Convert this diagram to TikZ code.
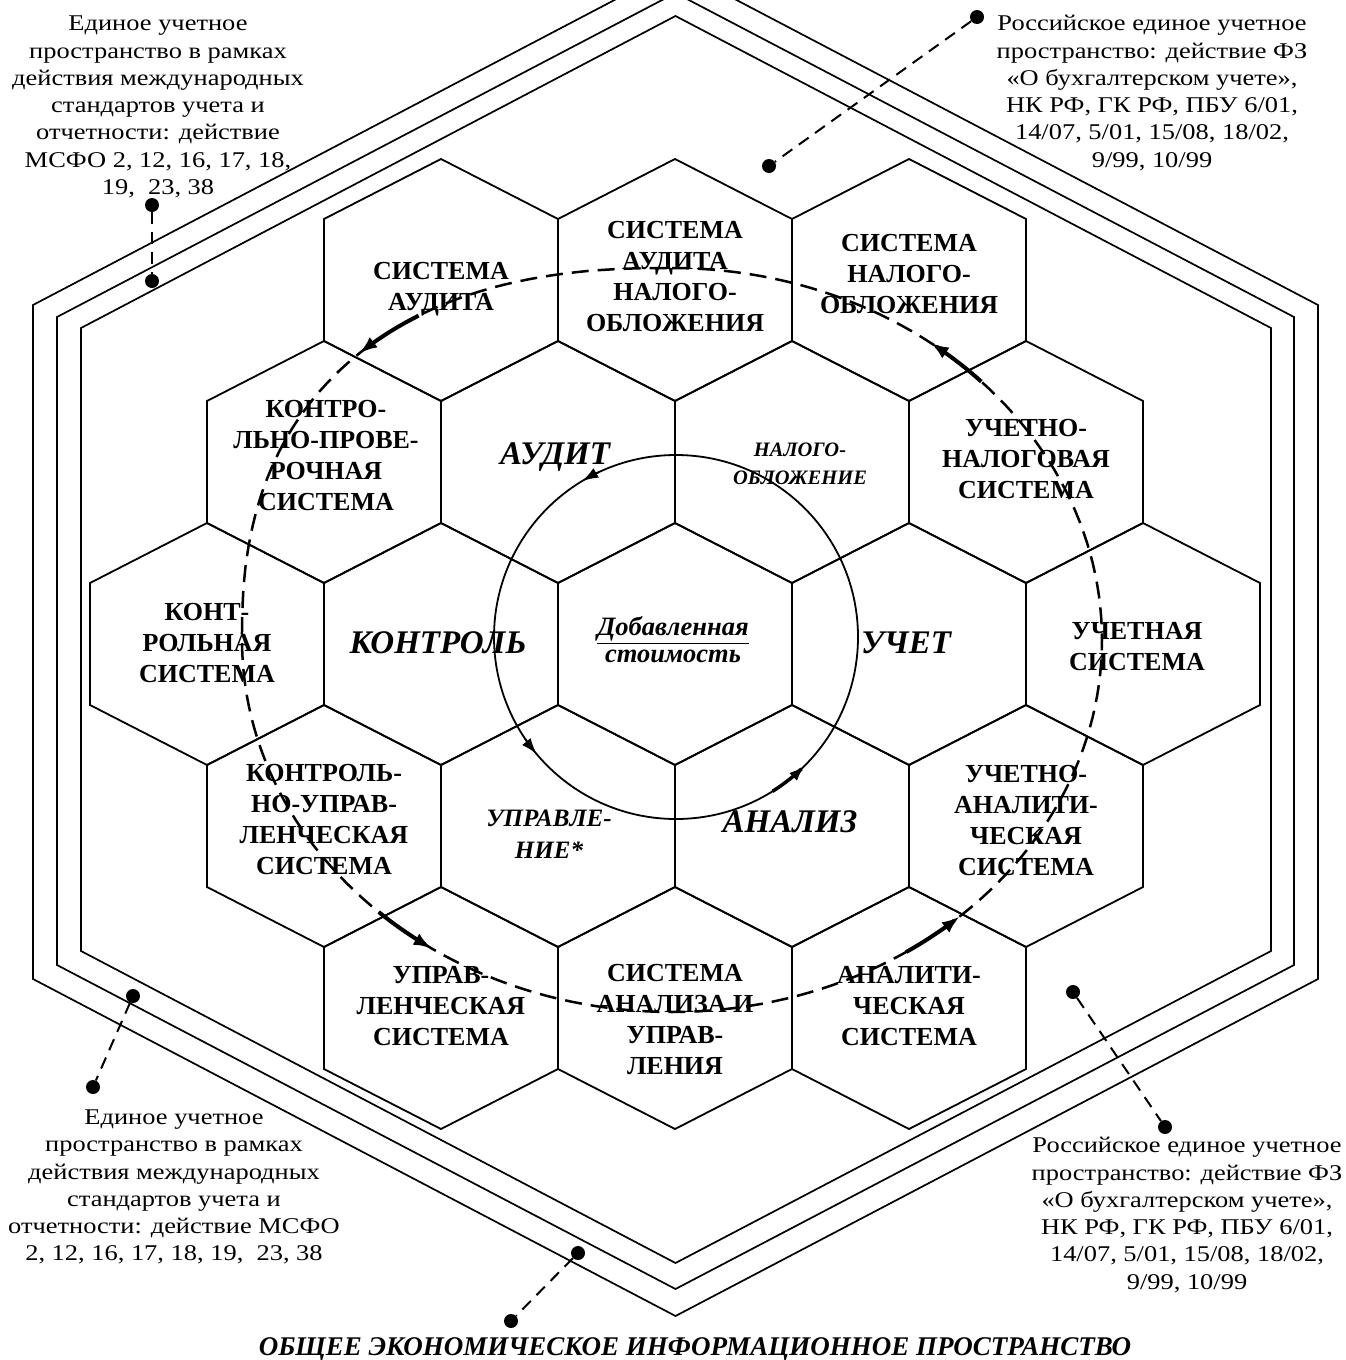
\documentclass[tikz,border=0pt]{standalone}
\usepackage{fontspec}
\setmainfont{Liberation Serif}
\newfontfamily\lblfont[FakeStretch=1.175]{Liberation Serif}
\usetikzlibrary{arrows.meta}
\begin{document}
\begin{tikzpicture}[x=1pt,y=-1pt,
  hexline/.style={line width=1.8pt, line join=miter},
  outerline/.style={line width=1.7pt},
  htxt/.style={font=\fontsize{26}{31}\selectfont\bfseries, align=center, inner sep=0pt},
  itxt/.style={font=\fontsize{33}{36}\selectfont\bfseries\itshape, align=center, inner sep=0pt},
  lbl/.style={font=\lblfont\fontsize{22.5}{27.3}\selectfont, align=center, inner sep=0pt},
  dotnode/.style={circle, fill, inner sep=0pt, minimum size=14pt},
  leader/.style={line width=2pt, dash pattern=on 12pt off 8pt},
  loopline/.style={line width=2.5pt, dash pattern=on 17pt off 9pt},
  flowarrow/.style={line width=4pt, -{Latex[length=18pt,width=13pt]}},
  circarrow/.style={line width=1.8pt, -{Latex[length=16pt,width=11pt]}}
]
\useasboundingbox (0,0) rectangle (1346,1360);

% outer boundaries
\draw[outerline] (675.5,-32) -- (1318,305) -- (1318,979) -- (675.5,1316) -- (33,979) -- (33,305) -- cycle;
\draw[outerline] (675.5,-7) -- (1294,317) -- (1294,965) -- (675.5,1289) -- (57,965) -- (57,317) -- cycle;
\draw[outerline] (675.5,16) -- (1271,328) -- (1271,951) -- (675.5,1263) -- (81,951) -- (81,328) -- cycle;

% honeycomb
\foreach \cx/\cy in {675/644, 792/462, 558/462, 441/644, 909/644, 558/826, 792/826,
  675/280, 441/280, 909/280, 324/462, 1026/462, 207/644, 1143/644, 324/826, 1026/826,
  441/1008, 675/1008, 909/1008}
  {\draw[hexline] (\cx,\cy-121) -- (\cx+117,\cy-61) -- (\cx+117,\cy+61) -- (\cx,\cy+121)
     -- (\cx-117,\cy+61) -- (\cx-117,\cy-61) -- cycle;}

% inner circle
\draw[line width=1.8pt] (676,637) circle [radius=182pt];

% dashed loop: elliptic on three quarters, fuller in the upper-left quarter
\draw[loopline] plot[domain=-90:180, samples=160] ({672+430*cos(\x)},{640+372*sin(\x)})
  -- plot[domain=0.5:89.5, samples=60] ({672-430*cos(\x)^0.833},{640-372*sin(\x)^0.833}) -- cycle;

% arrows on inner circle
\draw[circarrow] plot[domain=245:239, samples=6] ({676+182*cos(\x)},{637+182*sin(\x)});
\draw[circarrow] plot[domain=146:140, samples=6] ({676+182*cos(\x)},{637+182*sin(\x)});
\draw[circarrow, line width=3.5pt] plot[domain=58:45, samples=10] ({676+182*cos(\x)},{637+182*sin(\x)});

% arrows on dashed loop
\draw[flowarrow] plot[domain=58:47, samples=10] ({672-430*cos(\x)^0.833},{640-372*sin(\x)^0.833});
\draw[flowarrow] plot[domain=133:124, samples=10] ({672+430*cos(\x)},{640+372*sin(\x)});
\draw[flowarrow] plot[domain=57:48, samples=10] ({672+430*cos(\x)},{640+372*sin(\x)});
\draw[flowarrow] plot[domain=316:307, samples=10] ({672+430*cos(\x)},{640+372*sin(\x)});

% outer ring texts
\node[htxt] (sa) at (441,289) {СИСТЕМА\\АУДИТА};
\node[htxt] (san) at (675,277) {СИСТЕМА\\АУДИТА\\НАЛОГО-\\ОБЛОЖЕНИЯ};
\node[htxt] (sn) at (909,274) {СИСТЕМА\\НАЛОГО-\\ОБЛОЖЕНИЯ};
\node[htxt] (kp) at (326,456) {КОНТРО-\\ЛЬНО-ПРОВЕ-\\РОЧНАЯ\\СИСТЕМА};
\node[htxt] (un) at (1026,459) {УЧЕТНО-\\НАЛОГОВАЯ\\СИСТЕМА};
\node[htxt] (ks) at (207,643) {КОНТ-\\РОЛЬНАЯ\\СИСТЕМА};
\node[htxt] (us) at (1137,647) {УЧЕТНАЯ\\СИСТЕМА};
\node[htxt] (ku) at (324,820) {КОНТРОЛЬ-\\НО-УПРАВ-\\ЛЕНЧЕСКАЯ\\СИСТЕМА};
\node[htxt] (ua) at (1026,821) {УЧЕТНО-\\АНАЛИТИ-\\ЧЕСКАЯ\\СИСТЕМА};
\node[htxt] (ups) at (441,1006) {УПРАВ-\\ЛЕНЧЕСКАЯ\\СИСТЕМА};
\node[htxt] (sau) at (675,1020) {СИСТЕМА\\АНАЛИЗА И\\УПРАВ-\\ЛЕНИЯ};
\node[htxt] (as) at (909,1006) {АНАЛИТИ-\\ЧЕСКАЯ\\СИСТЕМА};

% inner ring texts
\node[itxt] (aud) at (555,457) {АУДИТ};
\node[font=\fontsize{20.5}{28}\selectfont\bfseries\itshape, align=center, inner sep=0pt] (nal) at (800,464) {НАЛОГО-\\ОБЛОЖЕНИЕ};
\node[itxt] (kon) at (438,643) {КОНТРОЛЬ};
\node[itxt] (uch) at (906,643) {УЧЕТ};
\node[font=\fontsize{25}{32}\selectfont\bfseries\itshape, align=center, inner sep=0pt] (upr) at (549,834) {УПРАВЛЕ-\\НИЕ*};
\node[itxt] (ana) at (790,822) {АНАЛИЗ};
\node[font=\fontsize{26.5}{27}\selectfont\bfseries\itshape, align=center, inner sep=0pt] (ds) at (673,640) {\underline{Добавленная}\\стоимость};

% labels
\node[lbl] (ltl) at (158,107) {Единое учетное\\пространство в рамках\\действия международных\\стандартов учета и\\отчетности: действие\\МСФО 2, 12, 16, 17, 18,\\19,~ 23, 38};
\node[lbl] (ltr) at (1152,93) {Российское единое учетное\\пространство: действие ФЗ\\«О бухгалтерском учете»,\\НК РФ, ГК РФ, ПБУ 6/01,\\14/07, 5/01, 15/08, 18/02,\\9/99, 10/99};
\node[lbl] (lbl) at (174,1187) {Единое учетное\\пространство в рамках\\действия международных\\стандартов учета и\\отчетности: действие МСФО\\2, 12, 16, 17, 18, 19,~ 23, 38};
\node[lbl] (lbr) at (1187,1215) {Российское единое учетное\\пространство: действие ФЗ\\«О бухгалтерском учете»,\\НК РФ, ГК РФ, ПБУ 6/01,\\14/07, 5/01, 15/08, 18/02,\\9/99, 10/99};
\node[font=\fontsize{27}{30}\selectfont\bfseries\itshape, anchor=base, inner sep=0pt] (title) at (695,1355) {ОБЩЕЕ ЭКОНОМИЧЕСКОЕ ИНФОРМАЦИОННОЕ ПРОСТРАНСТВО};

% leaders with dots
\node[dotnode] (dtl1) at (152,205) {};
\node[dotnode] (dtl2) at (152,281) {};
\draw[leader] (dtl1) -- (dtl2);
\node[dotnode] (dtr1) at (977,17) {};
\node[dotnode] (dtr2) at (769,166) {};
\draw[leader] (dtr1) -- (dtr2);
\node[dotnode] (dbl1) at (133,996) {};
\node[dotnode] (dbl2) at (93,1087) {};
\draw[leader] (dbl1) -- (dbl2);
\node[dotnode] (dbr1) at (1073,992) {};
\node[dotnode] (dbr2) at (1165,1127) {};
\draw[leader] (dbr1) -- (dbr2);
\node[dotnode] (db1) at (578,1253) {};
\node[dotnode] (db2) at (511,1321) {};
\draw[leader] (db1) -- (db2);
\end{tikzpicture}
\end{document}
